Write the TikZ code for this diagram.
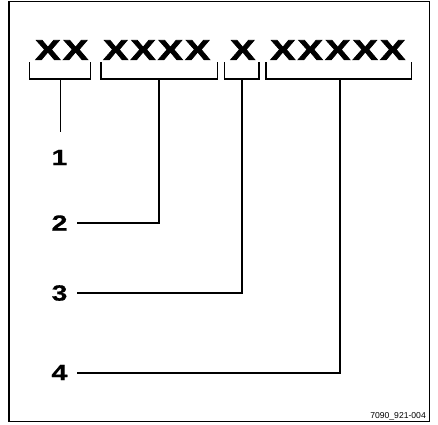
\documentclass[tikz,border=0pt]{standalone}
\usepackage{fontspec}
\usepackage{graphicx}
\newfontfamily\hbfont[FakeStretch=1.3,BoldFeatures={FakeBold=0.6}]{Liberation Sans}
\newfontfamily\xfont[BoldFeatures={FakeBold=2.2}]{Liberation Sans}
\newfontfamily\lsfont{Liberation Sans}
\begin{document}
\begin{tikzpicture}[x=1pt,y=-1pt,
  grp/.style={inner sep=0pt,anchor=south west},
  num/.style={inner sep=0pt,anchor=center,font=\hbfont\bfseries\fontsize{22}{22}\selectfont},
  brk/.style={line width=1.2pt,black},
  lead/.style={line width=1.2pt,black}]
\useasboundingbox (0,0) rectangle (438,424);
\draw[line width=1.5pt] (9,1.5) rectangle (429.5,421.5);
% groups of X
\node[grp] (g1) at (35,60) {\resizebox{53pt}{19.5pt}{\xfont\bfseries X\kern.6pt X}};
\node[grp] (g2) at (103,60) {\resizebox{107pt}{19.5pt}{\xfont\bfseries X\kern.6pt X\kern.6pt X\kern.6pt X}};
\node[grp] (g3) at (230,60) {\resizebox{25pt}{19.5pt}{\xfont\bfseries X}};
\node[grp] (g4) at (270,60) {\resizebox{135pt}{19.5pt}{\xfont\bfseries X\kern.6pt X\kern.6pt X\kern.6pt X\kern.6pt X}};
% brackets
\draw[brk] (29.5,62) |- (90.5,79) -- (90.5,62);
\draw[brk] (101,62) |- (217.5,79) -- (217.5,62);
\draw[brk] (224.5,62) |- (259,79) -- (259,62);
\draw[brk] (266,62) |- (411.5,79) -- (411.5,62);
\coordinate (b1) at (60.5,79);
\coordinate (b2) at (159,79);
\coordinate (b3) at (242,79);
\coordinate (b4) at (340,79);
\coordinate (t1) at (60.5,132);
\coordinate (e2) at (77,223);
\coordinate (e3) at (77,293);
\coordinate (e4) at (77,373);
% labels
\node[num] (n1) at (59.5,157.5) {1};
\node[num] (n2) at (59.5,223) {2};
\node[num] (n3) at (59.5,293) {3};
\node[num] (n4) at (59.5,372.5) {4};
% leaders
\draw[lead] (b1) -- (t1);
\draw[lead] (b2) |- (e2);
\draw[lead] (b3) |- (e3);
\draw[lead] (b4) |- (e4);
% footer
\node[inner sep=0pt,anchor=base east,font=\lsfont\fontsize{8.6}{9}\selectfont] (ft) at (426,418) {7090\_921-004};
\end{tikzpicture}
\end{document}
